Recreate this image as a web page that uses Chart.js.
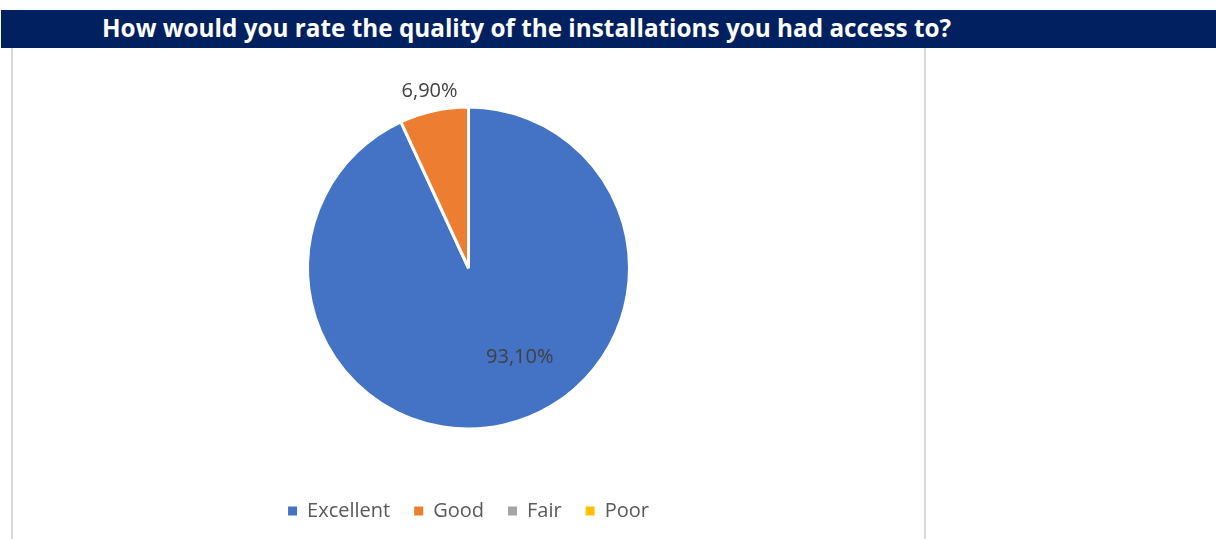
<!DOCTYPE html>
<html>
<head>
<meta charset="utf-8">
<script src="https://cdn.jsdelivr.net/npm/chart.js@4.4.1/dist/chart.umd.min.js"></script>
<style>
  html, body { margin: 0; padding: 0; background: #ffffff; }
  body { width: 1216px; height: 539px; position: relative; overflow: hidden; }
  .header {
    position: absolute; left: 1px; top: 10px; width: 1215px; height: 38px;
    background: #002060;
  }
  .header h1 {
    margin: 0; position: absolute; left: 101px; top: -1px; line-height: 38px;
    font-family: "Open Sans", sans-serif; font-weight: 700; font-size: 24.3px;
    color: #ffffff; white-space: nowrap;
  }
  .frame {
    position: absolute; left: 11px; top: 48px; width: 915px; height: 491px;
    border-left: 2px solid #d9d9d9; border-right: 2px solid #d9d9d9;
    box-sizing: border-box;
  }
  .frame canvas { position: absolute; left: 0; top: 0; }
</style>
</head>
<body>
<div class="header"><h1>How would you rate the quality of the installations you had access to?</h1></div>
<div class="frame"><canvas id="chart" width="911" height="491"></canvas></div>
<script>
// Survey answers and their share of respondents (%)
const categories = ["Excellent", "Good", "Fair", "Poor"];
const shares = [93.10, 6.90, 0, 0];
const sliceColors = ["#4472C4", "#ED7D31", "#A5A5A5", "#FFC000"];

const formatShare = v => v.toFixed(2).replace(".", ",") + "%";

// Writes each slice's share on or next to it
const sliceLabels = {
  id: "sliceLabels",
  afterDatasetsDraw(chart, args, opts) {
    const { ctx } = chart;
    const meta = chart.getDatasetMeta(0);
    const values = chart.data.datasets[0].data;
    ctx.save();
    ctx.font = `${opts.size}px ${opts.family}`;
    ctx.fillStyle = opts.color;
    ctx.textAlign = "center";
    ctx.textBaseline = "middle";
    meta.data.forEach((arc, i) => {
      const v = values[i];
      if (!v) return;
      const p = arc.getProps(["x", "y", "startAngle", "endAngle", "outerRadius"], true);
      const outside = v < opts.insideMin;
      const t = outside ? 0.5 : opts.insideAt;
      const a = p.startAngle + (p.endAngle - p.startAngle) * t;
      const d = outside ? p.outerRadius + opts.outsideGap : p.outerRadius * opts.insideRadius;
      ctx.fillText(formatShare(v), p.x + Math.cos(a) * d, p.y + Math.sin(a) * d);
    });
    ctx.restore();
  }
};

new Chart(document.getElementById("chart"), {
  type: "pie",
  data: {
    labels: categories,
    datasets: [{
      data: shares,
      backgroundColor: sliceColors,
      borderColor: "#ffffff",
      borderWidth: 3,
      hoverOffset: 0
    }]
  },
  options: {
    responsive: false,
    animation: false,
    radius: 161,
    layout: { padding: { top: 11, bottom: 8 } },
    plugins: {
      tooltip: { enabled: false },
      legend: {
        position: "bottom",
        labels: {
          boxWidth: 9,
          boxHeight: 9,
          padding: 24,
          color: "#595959",
          font: { family: "'Open Sans', sans-serif", size: 20 },
          // plain filled squares, without the white slice outline
          generateLabels(chart) {
            return Chart.overrides.pie.plugins.legend.labels.generateLabels(chart)
              .map(item => Object.assign(item, { lineWidth: 0, strokeStyle: "rgba(0,0,0,0)" }));
          }
        }
      },
      sliceLabels: {
        family: "'Open Sans', sans-serif",
        size: 20,
        color: "#404040",
        insideMin: 10,
        insideAt: 0.448,
        insideRadius: 0.64,
        outsideGap: 20
      }
    }
  },
  plugins: [sliceLabels]
});
</script>
</body>
</html>
